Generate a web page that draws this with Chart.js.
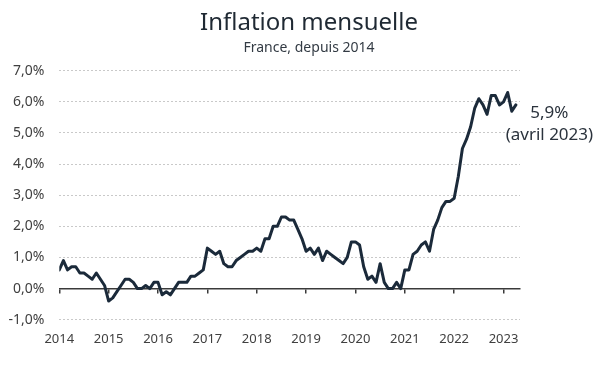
<!DOCTYPE html>
<html>
<head>
<meta charset="utf-8">
<script src="https://cdn.jsdelivr.net/npm/chart.js@4/dist/chart.umd.min.js"></script>
<style>
html,body{margin:0;padding:0;background:#ffffff;overflow:hidden}
#wrap{position:relative;width:601px;height:372px}
</style>
</head>
<body>
<div id="wrap"><canvas id="c" width="601" height="372"></canvas></div>
<script>
// ---- Texts ----
const chartTitle = 'Inflation mensuelle';
const chartSubtitle = 'France, depuis 2014';
const monthNames = ['janvier','février','mars','avril','mai','juin','juillet','août','septembre','octobre','novembre','décembre'];

// ---- Axis ticks ----
const years = [2014, 2015, 2016, 2017, 2018, 2019, 2020, 2021, 2022, 2023];
const yTicks = [-1, 0, 1, 2, 3, 4, 5, 6, 7];

// ---- Series: year-on-year monthly inflation (%), Jan 2014 -> Apr 2023 ----
const inflation2014 = [0.6, 0.9, 0.6, 0.7, 0.7, 0.5, 0.5, 0.4, 0.3, 0.5, 0.3, 0.1];
const inflation2015 = [-0.4, -0.3, -0.1, 0.1, 0.3, 0.3, 0.2, 0.0, 0.0, 0.1, 0.0, 0.2];
const inflation2016 = [0.2, -0.2, -0.1, -0.2, 0.0, 0.2, 0.2, 0.2, 0.4, 0.4, 0.5, 0.6];
const inflation2017 = [1.3, 1.2, 1.1, 1.2, 0.8, 0.7, 0.7, 0.9, 1.0, 1.1, 1.2, 1.2];
const inflation2018 = [1.3, 1.2, 1.6, 1.6, 2.0, 2.0, 2.3, 2.3, 2.2, 2.2, 1.9, 1.6];
const inflation2019 = [1.2, 1.3, 1.1, 1.3, 0.9, 1.2, 1.1, 1.0, 0.9, 0.8, 1.0, 1.5];
const inflation2020 = [1.5, 1.4, 0.7, 0.3, 0.4, 0.2, 0.8, 0.2, 0.0, 0.0, 0.2, 0.0];
const inflation2021 = [0.6, 0.6, 1.1, 1.2, 1.4, 1.5, 1.2, 1.9, 2.2, 2.6, 2.8, 2.8];
const inflation2022 = [2.9, 3.6, 4.5, 4.8, 5.2, 5.8, 6.1, 5.9, 5.6, 6.2, 6.2, 5.9];
const inflation2023 = [6.0, 6.3, 5.7, 5.9];

const inflation = [].concat(inflation2014, inflation2015, inflation2016, inflation2017,
  inflation2018, inflation2019, inflation2020, inflation2021, inflation2022, inflation2023);

// month index -> point
const points = inflation.map((v, i) => ({ x: i, y: v }));
const yearTickValues = years.map(y => (y - years[0]) * 12);

const lastIndex = inflation.length - 1;
const lastYear = years[0] + Math.floor(lastIndex / 12);
const lastMonth = monthNames[lastIndex % 12];
const fmt = v => v.toFixed(1).replace('.', ',') + '%';
const valueLabel = fmt(inflation[lastIndex]);
const dateLabel = '(' + lastMonth + ' ' + lastYear + ')';

const FONT = '"Noto Sans", "Open Sans", sans-serif';
const LINE_COLOR = '#1b2a3a';

const textPlugin = {
  id: 'texts',
  afterDraw(chart) {
    const ctx = chart.ctx;
    ctx.save();
    ctx.textAlign = 'center';
    ctx.textBaseline = 'alphabetic';
    const cx = chart.width / 2 + 8.5;
    ctx.fillStyle = '#1f2933';
    ctx.font = '24px ' + FONT;
    ctx.fillText(chartTitle, cx, 29.5);
    ctx.fillStyle = '#333b44';
    ctx.font = '14px ' + FONT;
    ctx.fillText(chartSubtitle, cx, 51.5);

    const meta = chart.getDatasetMeta(0);
    const last = meta.data[meta.data.length - 1];
    ctx.fillStyle = '#2b333d';
    ctx.font = '17px ' + FONT;
    ctx.fillText(valueLabel, last.x + 33.5, last.y + 13.5);
    ctx.fillText(dateLabel, last.x + 33.5, last.y + 35.5);
    ctx.restore();
  }
};

const setYearTicks = s => { s.ticks = yearTickValues.map(v => ({ value: v })); };

new Chart(document.getElementById('c'), {
  type: 'line',
  data: {
    datasets: [{
      data: points,
      borderColor: LINE_COLOR,
      borderWidth: 3,
      pointRadius: 0,
      tension: 0,
      borderCapStyle: 'round',
      borderJoinStyle: 'round',
      fill: false
    }]
  },
  options: {
    responsive: false,
    animation: false,
    devicePixelRatio: 1,
    layout: { padding: { left: 7.3, right: 81, top: 70.7, bottom: 12.7 } },
    plugins: {
      legend: { display: false },
      tooltip: { enabled: false },
      title: { display: false }
    },
    scales: {
      x: {
        type: 'linear',
        position: 'bottom',
        min: 0,
        max: 112,
        afterBuildTicks: setYearTicks,
        grid: { display: false, drawTicks: false },
        border: { display: false },
        ticks: {
          padding: 12,
          color: '#404040',
          font: { family: FONT, size: 13 },
          maxRotation: 0,
          autoSkip: false,
          callback: v => String(years[0] + v / 12)
        }
      },
      x0: {
        axis: 'x',
        type: 'linear',
        position: { y: 0 },
        min: 0,
        max: 112,
        afterBuildTicks: setYearTicks,
        grid: {
          drawOnChartArea: false,
          drawTicks: true,
          tickLength: 4,
          color: '#3a3a3a',
          lineWidth: 1.5
        },
        border: { display: true, color: '#3a3a3a', width: 1.5 },
        ticks: { display: false }
      },
      y: {
        type: 'linear',
        min: -1,
        max: 7,
        afterBuildTicks: s => { s.ticks = yTicks.map(v => ({ value: v })); },
        afterFit: s => { s.width = 52; },
        grid: {
          drawTicks: false,
          color: '#c9c9c9',
          lineWidth: 1
        },
        border: { display: false, dash: [2, 2] },
        ticks: {
          padding: 15,
          color: '#404040',
          font: { family: FONT, size: 14 },
          callback: v => fmt(v)
        }
      }
    }
  },
  plugins: [textPlugin]
});
</script>
</body>
</html>
